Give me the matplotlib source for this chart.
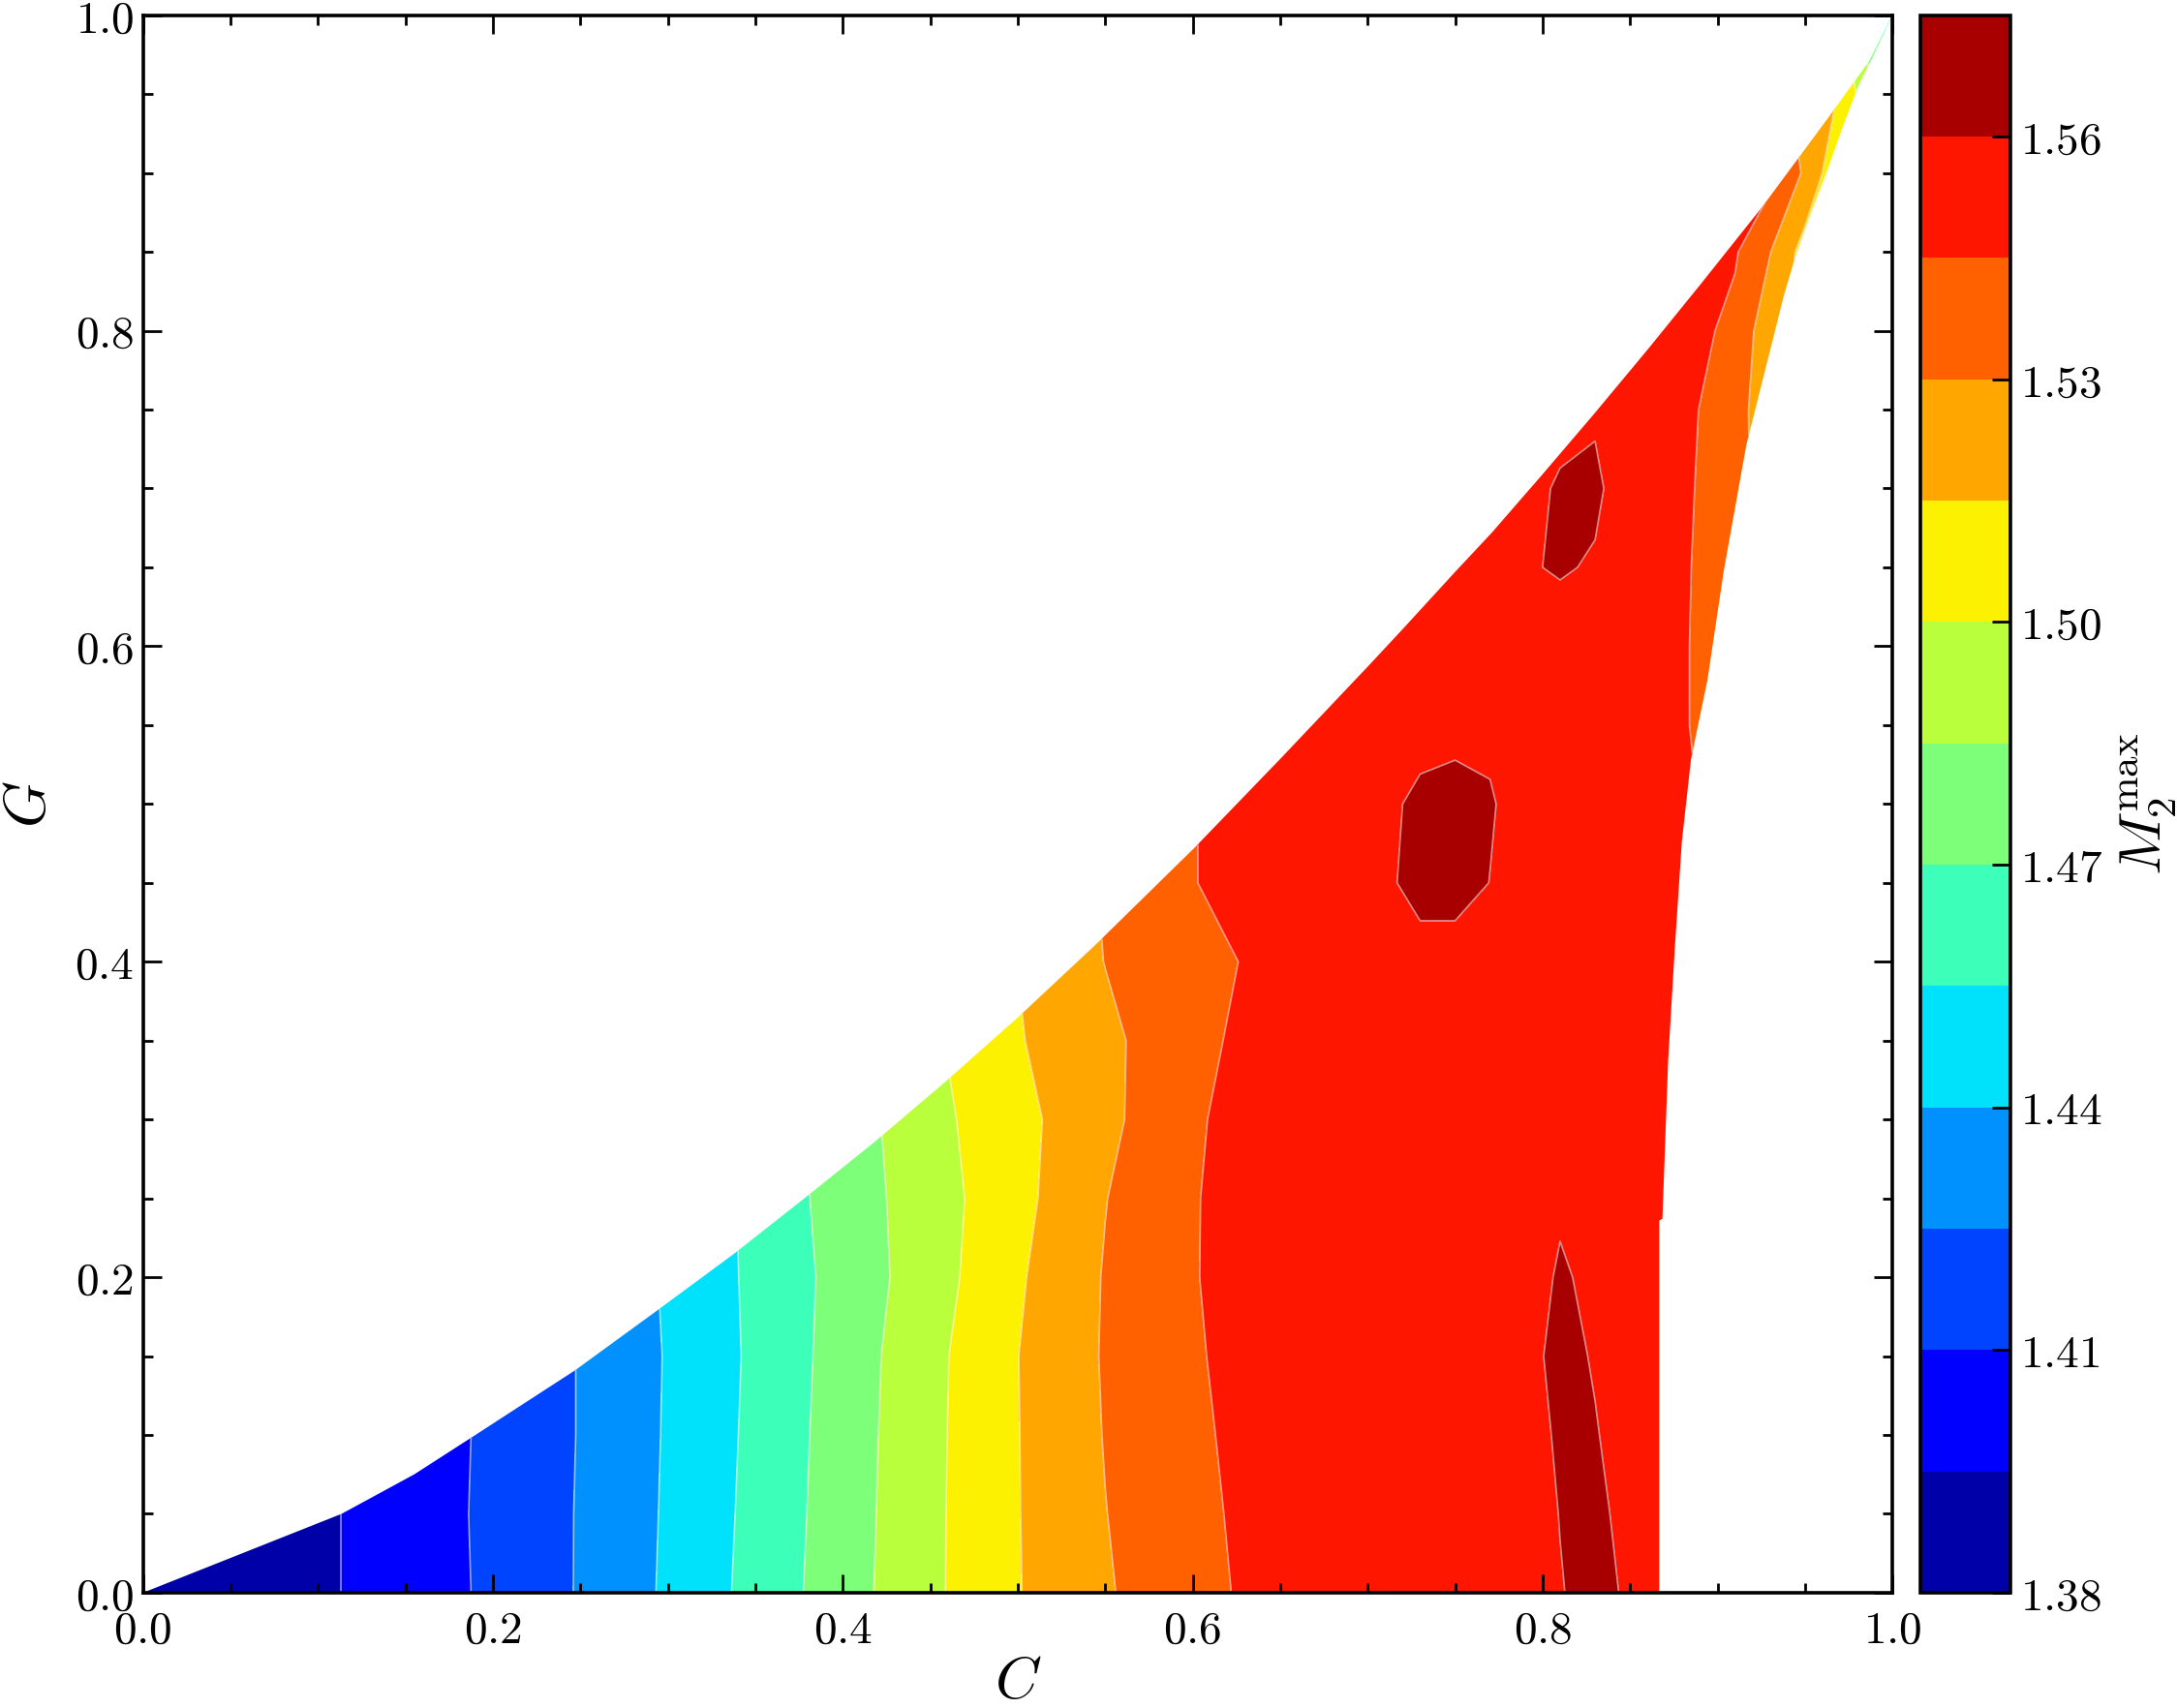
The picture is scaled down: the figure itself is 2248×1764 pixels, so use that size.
import numpy as np
import matplotlib
matplotlib.use('Agg')
import matplotlib.pyplot as plt
from matplotlib.patches import Polygon
from matplotlib.ticker import MultipleLocator, FuncFormatter

plt.rcParams['mathtext.fontset'] = 'cm'
plt.rcParams['font.family'] = 'serif'
plt.rcParams['font.serif'] = ['DejaVu Serif']

# grid nodes (C across, G up)
c_nodes = [0.00, 0.05, 0.10, 0.15, 0.20, 0.25, 0.30, 0.35, 0.40, 0.45,
           0.50, 0.55, 0.60, 0.65,
           0.69, 0.71, 0.73, 0.75, 0.77, 0.79,
           0.81, 0.83, 0.85, 0.87,
           0.89, 0.91, 0.93, 0.95, 0.97, 0.99, 1.00]
g_nodes = [0.00, 0.05, 0.10, 0.15, 0.20, 0.25, 0.30, 0.35, 0.40, 0.45, 0.50,
           0.55, 0.60, 0.65, 0.70, 0.75, 0.80, 0.85, 0.90, 0.95, 1.00]

# M2max at each node, one list per G row
m_g000 = [1.381, 1.386, 1.3924, 1.4022, 1.4126, 1.4261, 1.4422, 1.4598, 1.4784, 1.4970,
          1.5143, 1.5286, 1.5401, 1.5512,
          1.5555, 1.5560, 1.5565, 1.5570, 1.5575, 1.5580,
          1.5596, 1.5625, 1.5588, 1.5560,
          1.556, 1.556, 1.556, 1.556, 1.556, 1.556, 1.556]
m_g005 = [1.381, 1.386, 1.3924, 1.4022, 1.4130, 1.4260, 1.4417, 1.4590, 1.4777, 1.4968,
          1.5145, 1.5297, 1.5410, 1.5522,
          1.5555, 1.5560, 1.5560, 1.5565, 1.5570, 1.5562,
          1.5602, 1.5625, 1.5566, 1.5560,
          1.556, 1.556, 1.556, 1.556, 1.556, 1.556, 1.556]
m_g010 = [1.381, 1.386, 1.3924, 1.4022, 1.4126, 1.4257, 1.4413, 1.4583, 1.4771, 1.4965,
          1.5146, 1.5306, 1.5420, 1.5535,
          1.5560, 1.5560, 1.5560, 1.5565, 1.5570, 1.5570,
          1.5610, 1.5603, 1.5579, 1.5560,
          1.556, 1.556, 1.556, 1.556, 1.556, 1.556, 1.556]
m_g015 = [1.381, 1.386, 1.3924, 1.4022, 1.4126, 1.4257, 1.4410, 1.4577, 1.4764, 1.4960,
          1.5148, 1.5312, 1.5431, 1.5550,
          1.5560, 1.5560, 1.5560, 1.5565, 1.5575, 1.5583,
          1.5615, 1.5596, 1.5565, 1.5560,
          1.556, 1.556, 1.556, 1.556, 1.556, 1.556, 1.556]
m_g020 = [1.381, 1.386, 1.3924, 1.4022, 1.4126, 1.4257, 1.4418, 1.4581, 1.4753, 1.4933,
          1.5132, 1.5309, 1.5440, 1.5565,
          1.5570, 1.5570, 1.5570, 1.5570, 1.5575, 1.5580,
          1.5605, 1.5591, 1.5565, 1.5560,
          1.556, 1.556, 1.556, 1.556, 1.556, 1.556, 1.556]
m_g025 = [1.381, 1.386, 1.3924, 1.4022, 1.4126, 1.4257, 1.4418, 1.4586, 1.4769, 1.4931,
          1.5106, 1.5296, 1.5437, 1.5581,
          1.5570, 1.5570, 1.5570, 1.5570, 1.5575, 1.5580,
          1.5594, 1.5585, 1.5560, 1.5560,
          1.556, 1.556, 1.556, 1.556, 1.556, 1.556, 1.556]
m_g030 = [1.381, 1.386, 1.3924, 1.4022, 1.4126, 1.4257, 1.4418, 1.4586, 1.4769, 1.4955,
          1.5105, 1.5265, 1.5423, 1.5582,
          1.5570, 1.5570, 1.5570, 1.5570, 1.5570, 1.5575,
          1.5580, 1.5575, 1.5560, 1.5560,
          1.556, 1.556, 1.556, 1.556, 1.556, 1.556, 1.556]
m_g035 = [1.381, 1.386, 1.3924, 1.4022, 1.4126, 1.4257, 1.4418, 1.4586, 1.4769, 1.4974,
          1.5139, 1.5268, 1.5402, 1.5540,
          1.5560, 1.5560, 1.5560, 1.5560, 1.5560, 1.5560,
          1.5570, 1.5570, 1.5560, 1.5560,
          1.556, 1.556, 1.556, 1.556, 1.556, 1.556, 1.556]
m_g040 = [1.381, 1.386, 1.3924, 1.4022, 1.4126, 1.4257, 1.4418, 1.4586, 1.4769, 1.4974,
          1.5152, 1.5303, 1.5400, 1.5496,
          1.5550, 1.5560, 1.5573, 1.5573, 1.5560, 1.5560,
          1.5560, 1.5560, 1.5560, 1.5560,
          1.556, 1.556, 1.556, 1.556, 1.556, 1.556, 1.556]
m_g045 = [1.381, 1.386, 1.3924, 1.4022, 1.4126, 1.4257, 1.4418, 1.4586, 1.4769, 1.4974,
          1.5152, 1.5314, 1.5445, 1.5530,
          1.5550, 1.5587, 1.5625, 1.5625, 1.5599, 1.5570,
          1.5560, 1.5560, 1.5560, 1.5560,
          1.556, 1.556, 1.556, 1.556, 1.556, 1.556, 1.556]
m_g050 = [1.381, 1.386, 1.3924, 1.4022, 1.4126, 1.4257, 1.4418, 1.4586, 1.4769, 1.4974,
          1.5152, 1.5314, 1.5445, 1.5530,
          1.5550, 1.5575, 1.5625, 1.5630, 1.5605, 1.5576,
          1.5560, 1.5560, 1.5560, 1.5515,
          1.5445, 1.5370, 1.5295, 1.5200, 1.5100, 1.5010, 1.4900]
m_g055 = [1.381, 1.386, 1.3924, 1.4022, 1.4126, 1.4257, 1.4418, 1.4586, 1.4769, 1.4974,
          1.5152, 1.5314, 1.5445, 1.5530,
          1.5550, 1.5555, 1.5559, 1.5576, 1.5589, 1.5570,
          1.5560, 1.5560, 1.5555, 1.5510,
          1.5424, 1.5360, 1.5280, 1.5200, 1.5100, 1.4990, 1.4900]
m_g060 = [1.381, 1.386, 1.3924, 1.4022, 1.4126, 1.4257, 1.4418, 1.4586, 1.4769, 1.4974,
          1.5152, 1.5314, 1.5445, 1.5530,
          1.5550, 1.5550, 1.5560, 1.5560, 1.5565, 1.5570,
          1.5558, 1.5560, 1.5555, 1.5510,
          1.5424, 1.5350, 1.5270, 1.5200, 1.5100, 1.4990, 1.4900]
m_g065 = [1.381, 1.386, 1.3924, 1.4022, 1.4126, 1.4257, 1.4418, 1.4586, 1.4769, 1.4974,
          1.5152, 1.5314, 1.5445, 1.5530,
          1.5550, 1.5550, 1.5550, 1.5560, 1.5570, 1.5592,
          1.5608, 1.5592, 1.5560, 1.5510,
          1.5430, 1.5350, 1.5270, 1.5200, 1.5100, 1.4990, 1.4900]
m_g070 = [1.381, 1.386, 1.3924, 1.4022, 1.4126, 1.4257, 1.4418, 1.4586, 1.4769, 1.4974,
          1.5152, 1.5314, 1.5445, 1.5530,
          1.5550, 1.5550, 1.5550, 1.5550, 1.5550, 1.5560,
          1.5615, 1.5615, 1.5555, 1.5510,
          1.5439, 1.5355, 1.5220, 1.5145, 1.5070, 1.4990, 1.4900]
m_g075 = [1.381, 1.386, 1.3924, 1.4022, 1.4126, 1.4257, 1.4418, 1.4586, 1.4769, 1.4974,
          1.5152, 1.5314, 1.5445, 1.5530,
          1.5550, 1.5550, 1.5550, 1.5550, 1.5550, 1.5550,
          1.5557, 1.5590, 1.5545, 1.5515,
          1.5447, 1.5350, 1.5220, 1.5080, 1.5030, 1.4950, 1.4900]
m_g080 = [1.381, 1.386, 1.3924, 1.4022, 1.4126, 1.4257, 1.4418, 1.4586, 1.4769, 1.4974,
          1.5152, 1.5314, 1.5445, 1.5530,
          1.5550, 1.5550, 1.5550, 1.5550, 1.5550, 1.5550,
          1.5550, 1.5550, 1.5540, 1.5520,
          1.5480, 1.5410, 1.5205, 1.5090, 1.5030, 1.4950, 1.4900]
m_g085 = [1.381, 1.386, 1.3924, 1.4022, 1.4126, 1.4257, 1.4418, 1.4586, 1.4769, 1.4974,
          1.5152, 1.5314, 1.5445, 1.5530,
          1.5550, 1.5550, 1.5550, 1.5550, 1.5550, 1.5550,
          1.5550, 1.5550, 1.5540, 1.5530,
          1.5505, 1.5465, 1.5305, 1.5090, 1.4950, 1.4800, 1.4700]
m_g090 = [1.381, 1.386, 1.3924, 1.4022, 1.4126, 1.4257, 1.4418, 1.4586, 1.4769, 1.4974,
          1.5152, 1.5314, 1.5445, 1.5530,
          1.5550, 1.5550, 1.5550, 1.5550, 1.5550, 1.5550,
          1.5550, 1.5550, 1.5540, 1.5530,
          1.5510, 1.5490, 1.5500, 1.5274, 1.5024, 1.4800, 1.4700]
m_g095 = [1.381, 1.386, 1.3924, 1.4022, 1.4126, 1.4257, 1.4418, 1.4586, 1.4769, 1.4974,
          1.5152, 1.5314, 1.5445, 1.5530,
          1.5550, 1.5550, 1.5550, 1.5550, 1.5550, 1.5550,
          1.5550, 1.5550, 1.5530, 1.5500,
          1.5470, 1.5420, 1.5350, 1.5260, 1.5140, 1.4830, 1.4750]
m_g100 = [1.381, 1.386, 1.3924, 1.4022, 1.4126, 1.4257, 1.4418, 1.4586, 1.4769, 1.4974,
          1.5152, 1.5314, 1.5445, 1.5530,
          1.5550, 1.5550, 1.5550, 1.5550, 1.5550, 1.5550,
          1.5550, 1.5550, 1.5520, 1.5480,
          1.5420, 1.5380, 1.5310, 1.5200, 1.5050, 1.4700, 1.4450]

# edges of the region that has data
upper_c = [0.0, 0.1135, 0.155, 0.19, 0.247, 0.294, 0.3375, 0.378, 0.418, 0.458, 0.4995,
           0.5447, 0.601, 0.65, 0.70, 0.72, 0.75, 0.771, 0.80, 0.83, 0.86, 0.89,
           0.9257, 0.9626, 0.9866, 1.0]
upper_g = [0.0, 0.05, 0.075, 0.10, 0.141, 0.179, 0.2146, 0.25, 0.2856, 0.3233, 0.3641,
           0.411, 0.4722, 0.5285, 0.587, 0.6108, 0.6471, 0.672, 0.709, 0.748, 0.788, 0.829,
           0.8787, 0.934, 0.9708, 1.0]
right_g = [1.0, 0.9729, 0.9565, 0.9299, 0.9012, 0.8746, 0.846, 0.8214, 0.801, 0.7277,
           0.648, 0.579, 0.528, 0.476, 0.407, 0.338, 0.237, 0.236, 0.0]
right_c = [1.0, 0.9884, 0.981, 0.9718, 0.9626, 0.9534, 0.9442, 0.9377, 0.9331, 0.9165,
           0.9036, 0.8943, 0.8848, 0.8796, 0.8755, 0.8718, 0.8685, 0.8667, 0.8667]

levels = np.round(np.arange(1.38, 1.5751, 0.015), 3)
cbar_ticks = [1.38, 1.41, 1.44, 1.47, 1.50, 1.53, 1.56]

M = np.array([m_g000, m_g005, m_g010, m_g015, m_g020, m_g025, m_g030, m_g035,
              m_g040, m_g045, m_g050, m_g055, m_g060, m_g065, m_g070, m_g075,
              m_g080, m_g085, m_g090, m_g095, m_g100])
C, G = np.meshgrid(c_nodes, g_nodes)

fig = plt.figure(figsize=(11.24, 8.82), dpi=200)
ax = fig.add_axes([0.0657, 0.0675, 0.8036, 0.9236])
cax = fig.add_axes([0.8820, 0.0675, 0.0415, 0.9236])

cf = ax.contourf(C, G, M, levels=levels, cmap='jet')
cl = ax.contour(C, G, M, levels=levels, colors='white', linewidths=0.6, alpha=0.55)

# clip everything to the physical region
edge = list(zip(upper_c, upper_g)) + list(zip(right_c, right_g))
region = Polygon(edge, closed=True, facecolor='none', edgecolor='none',
                 transform=ax.transData)
ax.add_patch(region)
cf.set_clip_path(region)
cl.set_clip_path(region)

ax.set_xlim(0, 1)
ax.set_ylim(0, 1)
ax.xaxis.set_major_locator(MultipleLocator(0.2))
ax.yaxis.set_major_locator(MultipleLocator(0.2))
ax.xaxis.set_minor_locator(MultipleLocator(0.05))
ax.yaxis.set_minor_locator(MultipleLocator(0.05))
fmt1 = FuncFormatter(lambda v, p: '$%.1f$' % v)
ax.xaxis.set_major_formatter(fmt1)
ax.yaxis.set_major_formatter(fmt1)
ax.tick_params(which='both', direction='in', top=True, right=True, width=1.0,
               labelsize=17)
ax.tick_params(which='major', length=7)
ax.tick_params(which='minor', length=3.5)
ax.tick_params(axis='x', pad=6)
for s in ax.spines.values():
    s.set_linewidth(1.3)
ax.set_xlabel('$C$', fontsize=22, labelpad=0)
ax.set_ylabel('$G$', fontsize=22, labelpad=6)

cbar = fig.colorbar(cf, cax=cax, ticks=cbar_ticks)
cbar.ax.yaxis.set_major_formatter(FuncFormatter(lambda v, p: '$%.2f$' % v))
cbar.ax.tick_params(direction='in', length=7, width=1.0, labelsize=17)
cbar.ax.minorticks_off()
cbar.outline.set_linewidth(1.3)
cbar.set_label(r'$M_2^{\rm max}$', fontsize=22, labelpad=6)

fig.savefig('out.png', dpi=200)
